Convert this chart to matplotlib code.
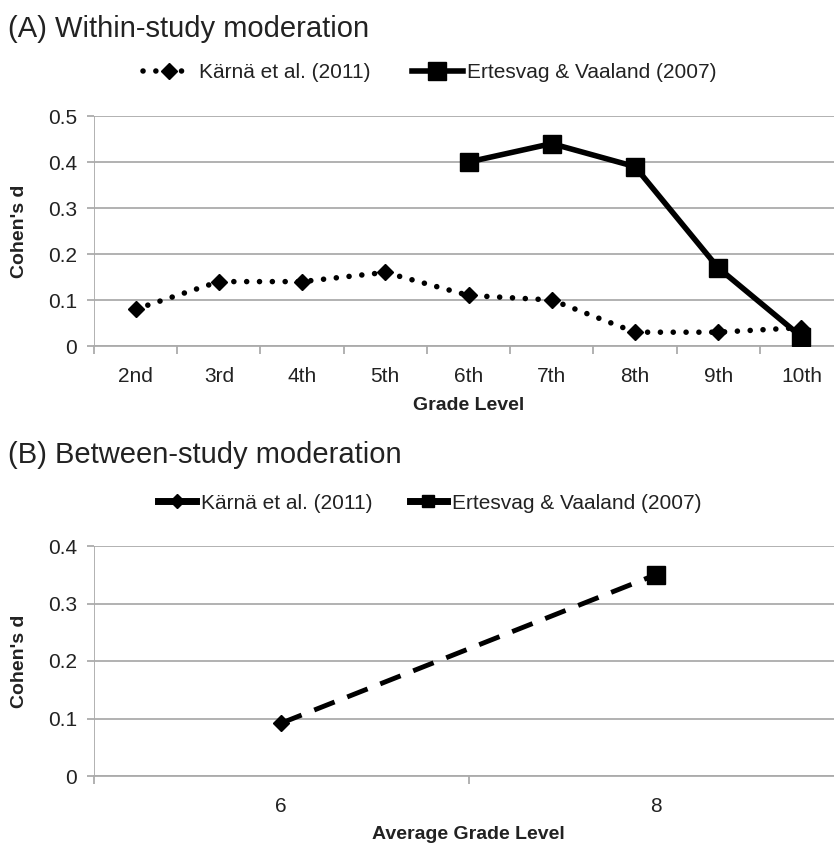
import matplotlib
matplotlib.use("Agg")
import matplotlib.pyplot as plt
from matplotlib.lines import Line2D

grades = ["2nd", "3rd", "4th", "5th", "6th", "7th", "8th", "9th", "10th"]
karna_within = [0.08, 0.14, 0.14, 0.16, 0.11, 0.10, 0.03, 0.03, 0.04]
ertesvag_grades = ["6th", "7th", "8th", "9th", "10th"]
ertesvag_within = [0.40, 0.44, 0.39, 0.17, 0.02]

avg_grades = ["6", "8"]
between_values = [0.092, 0.35]

legend_labels = ["Kärnä et al. (2011)", "Ertesvag & Vaaland (2007)"]

plt.rcParams["font.family"] = ["Liberation Sans", "DejaVu Sans"]
INK = "#222222"
GRID = "#ababab"
W, H = 834, 846
DOTS = (0, (0.01, 2.3))

fig = plt.figure(figsize=(W / 100, H / 100), dpi=100)


def style_axis(ax, n_cat, ymax, xlabel, xlabel_y):
    ax.set_xlim(-0.5, n_cat - 0.5)
    ax.set_ylim(0, ymax)
    for side in ["top", "right", "left"]:
        ax.spines[side].set_visible(False)
    ax.spines["bottom"].set_color(GRID)
    ax.spines["bottom"].set_linewidth(1.3)
    ax.grid(axis="y", color=GRID, linewidth=1.3)
    ax.set_axisbelow(True)
    ax.axvline(-0.5, color=GRID, linewidth=1.3, zorder=0)
    ax.tick_params(axis="y", length=5, width=1.3, color=GRID, pad=7,
                   labelsize=15, labelcolor=INK)
    ax.tick_params(axis="x", which="major", length=0, pad=15,
                   labelsize=15, labelcolor=INK)
    ax.set_xticks([i - 0.5 for i in range(n_cat + 1)], minor=True)
    ax.tick_params(axis="x", which="minor", length=5.5, color=GRID, width=1.3)

    ax.set_ylabel("Cohen's d", fontsize=14, fontweight="bold", color=INK)
    ax.yaxis.label.set_ha("center")
    ax.yaxis.label.set_va("center")
    ax.yaxis.set_label_coords(-0.100, 0.5)
    ax.set_xlabel(xlabel, fontsize=14, fontweight="bold", color=INK)
    ax.xaxis.label.set_va("center")
    ax.xaxis.set_label_coords(0.5, xlabel_y)


# ---- Panel A: within-study ----
axA = fig.add_axes([94 / W, 1 - 346 / H, 749 / W, 230 / H])
xa = list(range(len(grades)))
xe = [grades.index(g) for g in ertesvag_grades]
axA.plot(xa, karna_within, color="black", linestyle=DOTS, linewidth=4,
         dash_capstyle="round", marker="D", markersize=8.5, zorder=3)
axA.plot(xe, ertesvag_within, color="black", linewidth=4,
         marker="s", markersize=13, zorder=4)
axA.set_xticks(xa)
axA.set_xticklabels(grades)
axA.set_yticks([0, 0.1, 0.2, 0.3, 0.4, 0.5])
axA.set_yticklabels(["0", "0.1", "0.2", "0.3", "0.4", "0.5"])
style_axis(axA, len(grades), 0.5, "Grade Level", (346 - 405) / 230)

handlesA = [
    Line2D([], [], color="black", linestyle=DOTS, linewidth=4,
           dash_capstyle="round", marker="D", markersize=8.5),
    Line2D([], [], color="black", linewidth=4, marker="s", markersize=13),
]
fig.legend(handlesA, legend_labels, loc="center",
           bbox_to_anchor=(430 / W, 1 - 73 / H), ncol=2, frameon=False,
           handlelength=2.45, handletextpad=0.2, columnspacing=2.0,
           prop={"size": 15}, labelcolor=INK)

fig.text(8 / W, 1 - 37 / H, "(A) Within-study moderation", fontsize=21,
         va="baseline", ha="left", color=INK)

# ---- Panel B: between-study ----
axB = fig.add_axes([94 / W, 1 - 776 / H, 749 / W, 230 / H])
xb = list(range(len(avg_grades)))
axB.plot(xb, between_values, color="black", linestyle=(0, (4.5, 2.8)),
         linewidth=3.5, zorder=3)
axB.plot(xb[0], between_values[0], color="black", marker="D",
         markersize=8.5, linestyle="none", zorder=4)
axB.plot(xb[1], between_values[1], color="black", marker="s",
         markersize=13, linestyle="none", zorder=4)
axB.set_xticks(xb)
axB.set_xticklabels(avg_grades)
axB.set_yticks([0, 0.1, 0.2, 0.3, 0.4])
axB.set_yticklabels(["0", "0.1", "0.2", "0.3", "0.4"])
style_axis(axB, len(avg_grades), 0.4, "Average Grade Level", (776 - 834) / 230)

handlesB = [
    Line2D([], [], color="black", linewidth=5, marker="D", markersize=7),
    Line2D([], [], color="black", linewidth=5, marker="s", markersize=9),
]
fig.legend(handlesB, legend_labels, loc="center",
           bbox_to_anchor=(430 / W, 1 - 503 / H), ncol=2, frameon=False,
           handlelength=1.8, handletextpad=0.25, columnspacing=1.8,
           prop={"size": 15}, labelcolor=INK)

fig.text(8 / W, 1 - 463 / H, "(B) Between-study moderation", fontsize=21,
         va="baseline", ha="left", color=INK)

fig.savefig("out.png", dpi=100)
